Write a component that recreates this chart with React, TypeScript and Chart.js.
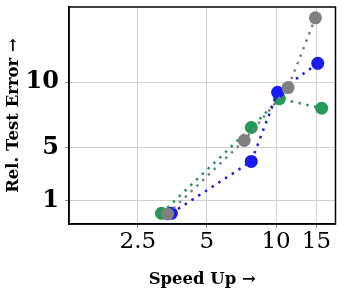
import React, { useEffect, useRef } from "react";
import { Chart, registerables } from "chart.js";

Chart.register(...registerables);

const xTicks = [2.5, 5, 10, 15];
const yTicks = [1, 5, 10];

const grayX = [3.37, 7.27, 11.28, 14.84];
const grayY = [-0.02, 5.56, 9.58, 14.88];
const blueX = [3.5, 7.8, 10.16, 15.19];
const blueY = [0.03, 3.97, 9.22, 11.42];
const greenX = [3.17, 7.8, 10.34, 15.8];
const greenY = [0.03, 6.55, 8.74, 8.01];

const GRAY = "#808080";
const BLUE = "#1a1af5";
const GREEN = "#23995a";

const toPts = (xs: number[], ys: number[]) => xs.map((x, i) => ({ x, y: ys[i] }));

const mkSet = (label: string, xs: number[], ys: number[], color: string) => ({
  label,
  data: toPts(xs, ys),
  borderColor: color,
  backgroundColor: color,
  borderWidth: 2.5,
  borderDash: [2.5, 5.5],
  pointRadius: 6.5,
  pointHoverRadius: 6.5,
  pointBorderWidth: 0,
  showLine: true,
  tension: 0,
});

const boxPlugin = {
  id: "box",
  afterDraw(chart: any) {
    const { ctx, chartArea } = chart;
    ctx.save();
    ctx.strokeStyle = "#000";
    ctx.lineWidth = 1.5;
    ctx.strokeRect(chartArea.left, chartArea.top, chartArea.right - chartArea.left, chartArea.bottom - chartArea.top);
    ctx.restore();
  },
};

export default function App() {
  const ref = useRef<HTMLCanvasElement>(null);
  useEffect(() => {
    if (!ref.current) return;
    const chart = new Chart(ref.current, {
      type: "scatter",
      data: {
        datasets: [
          mkSet("gray", grayX, grayY, GRAY),
          mkSet("blue", blueX, blueY, BLUE),
          mkSet("green", greenX, greenY, GREEN),
        ],
      },
      options: {
        animation: false,
        responsive: false,
        maintainAspectRatio: false,
        layout: { padding: { top: 7, right: 6, left: 0, bottom: 0 } },
        plugins: { legend: { display: false }, tooltip: { enabled: false } },
        scales: {
          x: {
            type: "logarithmic",
            min: 1.254,
            max: 18.15,
            afterBuildTicks: (s: any) => {
              s.ticks = xTicks.map((v) => ({ value: v }));
            },
            afterFit: (s: any) => {
              s.height = 72;
              s.paddingLeft = 0;
              s.paddingRight = 0;
            },
            ticks: {
              autoSkip: false,
              maxRotation: 0,
              padding: 0,
              color: "#000",
              font: { family: "'DejaVu Serif', serif", size: 23 },
              callback: (v: any) => String(v),
            },
            grid: { color: "#d0d0d0", lineWidth: 1, tickLength: 4, tickColor: "#888" },
            border: { color: "#000", width: 1.5 },
            title: {
              display: true,
              text: "Speed Up →",
              color: "#000",
              font: { family: "'DejaVu Serif', serif", size: 16.5, weight: "bold" },
              padding: { top: 2, bottom: 6 },
            },
          },
          y: {
            type: "linear",
            min: -0.78,
            max: 15.7,
            afterBuildTicks: (s: any) => {
              s.ticks = yTicks.map((v) => ({ value: v }));
            },
            afterFit: (s: any) => {
              s.width = 69;
              s.paddingTop = 0;
              s.paddingBottom = 0;
            },
            ticks: {
              autoSkip: false,
              padding: 6,
              color: "#000",
              font: { family: "'DejaVu Serif', serif", size: 24, weight: "bold" },
              callback: (v: any) => String(v),
            },
            grid: { color: "#d0d0d0", lineWidth: 1, tickLength: 4, tickColor: "#888" },
            border: { color: "#000", width: 1.5 },
            title: {
              display: true,
              text: "Rel. Test Error →",
              color: "#000",
              font: { family: "'DejaVu Serif', serif", size: 16.5, weight: "bold" },
              padding: { top: 4, bottom: 0 },
            },
          },
        },
      },
      plugins: [boxPlugin],
    } as any);
    return () => chart.destroy();
  }, []);
  return (
    <div style={{ position: "fixed", left: 0, top: 0, width: 342, height: 296, background: "#fff" }}>
      <canvas ref={ref} width={342} height={296} style={{ width: 342, height: 296 }} />
    </div>
  );
}
